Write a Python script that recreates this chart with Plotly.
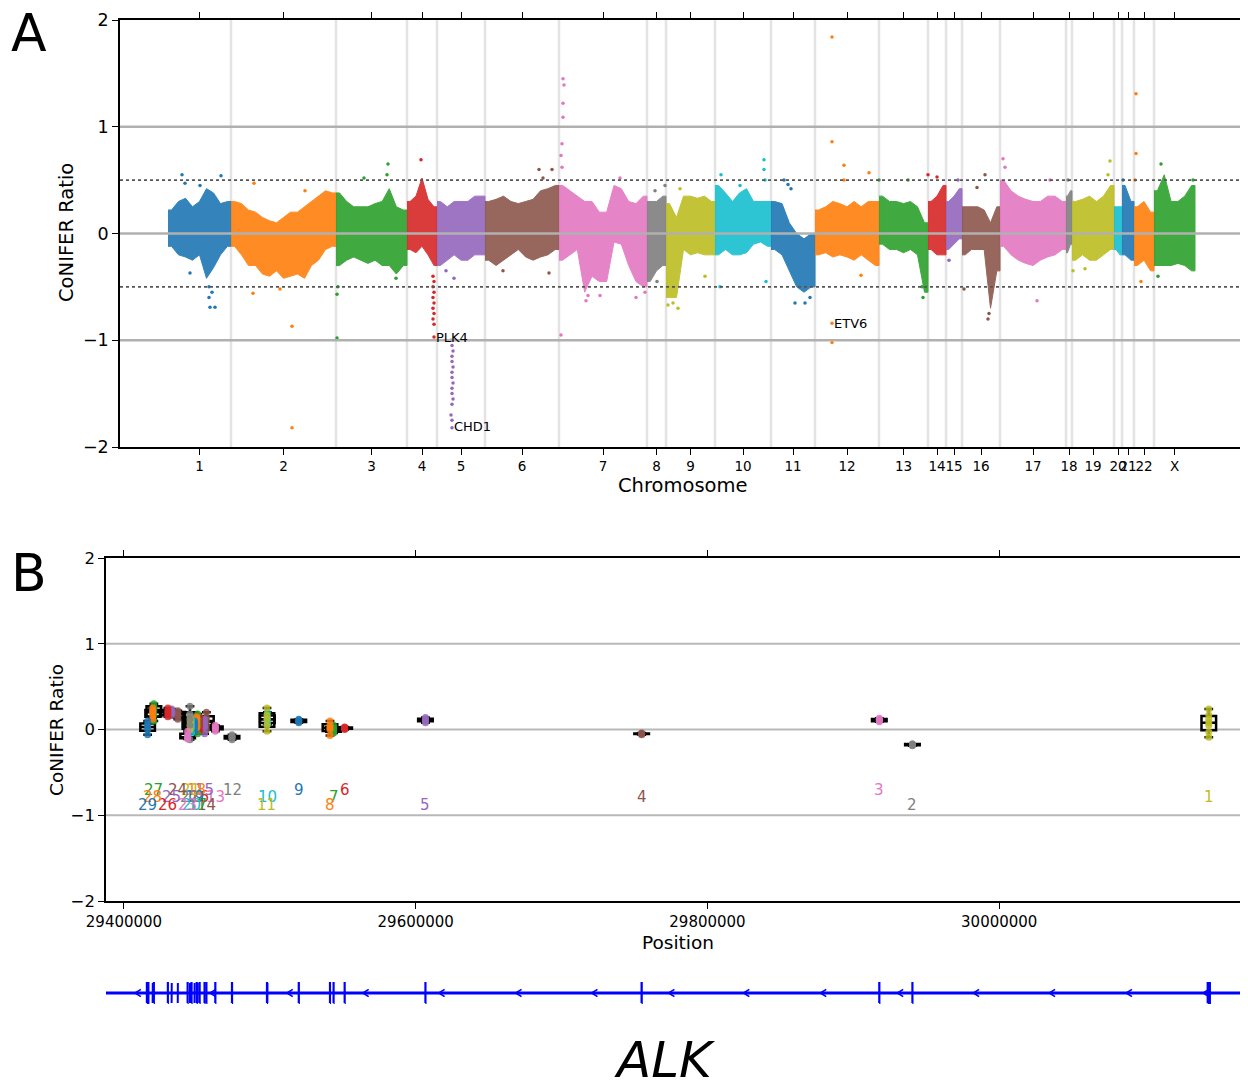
import plotly.graph_objects as go

REF_W, REF_H = 1248, 1087
OFF = 8                      # page body margin of the html page
W, H = REF_W - OFF, REF_H - OFF
TAB10 = ['#1f77b4', '#ff7f0e', '#2ca02c', '#d62728', '#9467bd',
         '#8c564b', '#e377c2', '#7f7f7f', '#bcbd22', '#17becf']
FONT = "DejaVu Sans"


def fx(px):
    return (px - OFF) / W


def fy(py):
    return 1 - (py - OFF) / H


# ---------------- Panel A data ----------------
chrom_names = ['1', '2', '3', '4', '5', '6', '7', '8', '9', '10', '11', '12',
               '13', '14', '15', '16', '17', '18', '19', '20', '21', '22', 'X']
# probes per chromosome (x100)
chrom_span = [63, 105, 71, 30, 48, 74, 88, 19, 49, 56, 44, 64,
              49, 18, 16, 38, 66, 6, 42, 8, 12, 20, 41]

# upper / lower envelope of the ratio cloud, in consecutive bins along each chromosome
band_hi = [
    [0.22, 0.30, 0.33, 0.25, 0.30, 0.42, 0.38, 0.28, 0.30],
    [0.30, 0.28, 0.22, 0.20, 0.15, 0.12, 0.10, 0.15, 0.20, 0.20, 0.25, 0.30, 0.35, 0.40, 0.38],
    [0.38, 0.30, 0.25, 0.25, 0.25, 0.28, 0.30, 0.42, 0.25, 0.22],
    [0.30, 0.35, 0.52, 0.32, 0.25],
    [0.30, 0.25, 0.30, 0.30, 0.30, 0.35, 0.35],
    [0.30, 0.32, 0.35, 0.30, 0.28, 0.30, 0.32, 0.40, 0.42, 0.45],
    [0.45, 0.40, 0.35, 0.30, 0.30, 0.20, 0.20, 0.45, 0.42, 0.30, 0.28, 0.35],
    [0.30, 0.30, 0.35],
    [0.28, 0.15, 0.35, 0.35, 0.33, 0.35, 0.30],
    [0.45, 0.38, 0.30, 0.38, 0.42, 0.30, 0.30, 0.30],
    [0.30, 0.28, 0.10, 0.00, -0.05, 0.00],
    [0.22, 0.25, 0.30, 0.28, 0.25, 0.30, 0.25, 0.30, 0.30],
    [0.35, 0.30, 0.30, 0.28, 0.30, 0.25, 0.10],
    [0.30, 0.35, 0.45],
    [0.30, 0.35, 0.42],
    [0.25, 0.25, 0.25, 0.22, 0.10, 0.25],
    [0.50, 0.40, 0.35, 0.32, 0.30, 0.30, 0.35, 0.35, 0.30],
    [0.35, 0.40],
    [0.30, 0.32, 0.35, 0.30, 0.35, 0.45],
    [0.25, 0.25],
    [0.45, 0.30],
    [0.25, 0.30, 0.20],
    [0.40, 0.55, 0.30, 0.30, 0.35, 0.45],
]
band_lo = [
    [-0.12, -0.20, -0.22, -0.25, -0.20, -0.42, -0.32, -0.20, -0.12],
    [-0.12, -0.20, -0.30, -0.30, -0.38, -0.40, -0.35, -0.42, -0.40, -0.38, -0.42, -0.30, -0.25, -0.15, -0.12],
    [-0.30, -0.25, -0.22, -0.25, -0.28, -0.25, -0.30, -0.30, -0.38, -0.30],
    [-0.15, -0.18, -0.12, -0.20, -0.30],
    [-0.30, -0.25, -0.20, -0.25, -0.25, -0.20, -0.20],
    [-0.25, -0.30, -0.25, -0.20, -0.15, -0.22, -0.25, -0.22, -0.20, -0.15],
    [-0.25, -0.20, -0.15, -0.55, -0.40, -0.45, -0.45, -0.08, -0.10, -0.30, -0.45, -0.50],
    [-0.45, -0.35, -0.30],
    [-0.60, -0.60, -0.15, -0.20, -0.18, -0.20, -0.20],
    [-0.20, -0.15, -0.20, -0.20, -0.18, -0.10, -0.08, -0.12],
    [-0.15, -0.20, -0.35, -0.50, -0.55, -0.50],
    [-0.20, -0.18, -0.22, -0.20, -0.22, -0.25, -0.20, -0.25, -0.30],
    [-0.10, -0.15, -0.15, -0.18, -0.15, -0.20, -0.55],
    [-0.15, -0.20, -0.20],
    [-0.15, -0.10, -0.05],
    [-0.20, -0.15, -0.15, -0.15, -0.70, -0.35],
    [-0.12, -0.20, -0.25, -0.28, -0.30, -0.25, -0.22, -0.20, -0.15],
    [-0.18, -0.10],
    [-0.25, -0.20, -0.25, -0.25, -0.20, -0.15],
    [-0.15, -0.20],
    [-0.20, -0.25],
    [-0.30, -0.25, -0.35],
    [-0.30, -0.30, -0.30, -0.28, -0.30, -0.35],
]

# individual probes outside the main cloud
outlier_chrom = (['1'] * 10 + ['2'] * 6 + ['3'] * 7 + ['4'] * 12 + ['5'] * 18 + ['6'] * 5 +
                 ['7'] * 14 + ['8'] * 3 + ['9'] * 5 + ['10'] * 7 + ['11'] * 6 + ['12'] * 8 +
                 ['13'] * 4 + ['14'] * 2 + ['15'] * 2 + ['16'] * 5 + ['17'] * 4 + ['18'] * 1 +
                 ['19'] * 4 + ['21'] * 1 + ['22'] * 4 + ['X'] * 3)
outlier_pos = [14, 17, 22, 41, 41, 42, 47, 44, 53, 32,
               86, 85, 124, 124, 112, 137,
               169, 169, 170, 220, 219, 196, 228,
               265, 266, 265, 266, 265, 266, 265, 266, 265, 266, 253, 266,
               283, 284, 285, 284, 284, 285, 284, 284, 285, 284, 284, 285, 284, 283, 284, 284, 278, 286,
               371, 384, 375, 335, 381,
               395, 396, 395, 395, 394, 393, 394, 393, 418, 420, 432, 468, 477, 452,
               497, 489, 487,
               500, 510, 505, 512, 537,
               553, 596, 596, 597, 598, 552, 572,
               616, 620, 627, 637, 642, 623,
               664, 664, 664, 664, 676, 676, 701, 693,
               711, 740, 755, 754,
               760, 769,
               781, 790,
               820, 821, 817, 796, 809,
               835, 837, 869, 882,
               900,
               942, 905, 917, 940,
               955,
               968, 968, 967, 973,
               993, 990, 1025]
outlier_ratio = [0.55, 0.47, -0.37, -0.50, -0.60, -0.69, -0.69, -0.55, 0.54, 0.45,
                 0.47, -0.56, -0.87, -1.82, -0.52, 0.40,
                 -0.98, -0.57, -0.50, 0.65, 0.55, 0.52, -0.42,
                 -0.40, -0.45, -0.50, -0.55, -0.60, -0.65, -0.70, -0.75, -0.80, -0.85, 0.69, -0.97,
                 -1.00, -1.05, -1.10, -1.15, -1.20, -1.25, -1.30, -1.35, -1.40, -1.45, -1.50, -1.55,
                 -1.60, -1.70, -1.75, -1.82, -0.35, -0.42,
                 0.60, 0.60, 0.52, -0.35, -0.37,
                 1.45, 1.39, 1.22, 1.09, 0.84, 0.73, 0.62, -0.95, -0.63, -0.58, -0.58, -0.60, -0.55, 0.52,
                 0.45, -0.45, 0.40,
                 -0.67, -0.70, -0.65, 0.42, -0.40,
                 0.55, 0.69, 0.60, 0.50, -0.45, -0.50, 0.45,
                 0.50, 0.46, -0.65, -0.65, -0.60, 0.42,
                 1.84, 0.86, -0.84, -1.02, 0.64, 0.50, 0.57, -0.39,
                 0.50, 0.50, -0.60, -0.50,
                 0.55, 0.53,
                 -0.25, 0.50,
                 -0.80, -0.75, 0.55, -0.52, 0.43,
                 0.70, 0.62, -0.63, 0.50,
                 0.50,
                 0.68, -0.35, -0.33, 0.55,
                 0.50,
                 1.31, 0.75, 0.50, -0.45,
                 0.65, -0.40, 0.50]

gene_labels = ['PLK4', 'CHD1', 'ETV6']
gene_label_pos = [266, 284, 664]
gene_label_ratio = [-0.97, -1.81, -0.84]

# ---------------- Panel B data (ALK exons) ----------------
exon_number = list(range(1, 30))
exon_start = [30142859, 29940444, 29917716, 29754782, 29606598, 29551216, 29543617, 29541170,
              29519754, 29498268, 29497965, 29473971, 29462546, 29456431, 29455170, 29451750,
              29450440, 29449788, 29448327, 29446208, 29445383, 29445210, 29443572, 29436850,
              29432652, 29430038, 29420408, 29419636, 29415640]
exon_end = [30144477, 29940563, 29917880, 29754982, 29606725, 29551347, 29543748, 29541270,
            29519923, 29498362, 29498093, 29474133, 29462696, 29456562, 29455314, 29451932,
            29450538, 29449940, 29448431, 29446394, 29445473, 29445274, 29443701, 29436947,
            29432744, 29430138, 29420542, 29419726, 29416788]
exon_ratios = [
    [0.24, 0.17, 0.12, 0.08, 0.05, -0.03, -0.09],
    [-0.17, -0.18, -0.19, -0.18, -0.17],
    [0.13, 0.12, 0.11, 0.10, 0.09],
    [-0.04, -0.05, -0.05, -0.06, -0.05],
    [0.14, 0.12, 0.11, 0.10, 0.08],
    [0.03, 0.02, 0.01, 0.02, 0.00],
    [0.05, 0.02, 0.00, -0.02, -0.04],
    [0.10, 0.05, 0.02, 0.00, -0.07],
    [0.12, 0.11, 0.10, 0.09, 0.08],
    [0.20, 0.15, 0.12, 0.08, 0.06],
    [0.25, 0.17, 0.12, 0.05, -0.02],
    [-0.06, -0.08, -0.09, -0.10, -0.12],
    [0.05, 0.03, 0.02, 0.01, -0.02],
    [0.20, 0.14, 0.10, 0.05, 0.00],
    [0.12, 0.08, 0.05, 0.02, -0.05],
    [0.15, 0.10, 0.06, 0.03, -0.02],
    [0.18, 0.12, 0.08, 0.04, -0.05],
    [0.15, 0.12, 0.10, 0.06, 0.02],
    [0.10, 0.07, 0.05, 0.02, -0.02],
    [0.12, 0.08, 0.05, 0.02, -0.04],
    [0.14, 0.10, 0.08, 0.04, 0.00],
    [0.27, 0.18, 0.12, 0.05, -0.12],
    [-0.02, -0.06, -0.09, -0.10, -0.11],
    [0.22, 0.20, 0.18, 0.15, 0.12],
    [0.24, 0.22, 0.20, 0.19, 0.17],
    [0.25, 0.22, 0.20, 0.17, 0.15],
    [0.30, 0.26, 0.22, 0.17, 0.10],
    [0.25, 0.22, 0.20, 0.16, 0.12],
    [0.10, 0.06, 0.03, 0.00, -0.06],
]
label_levels = [-0.70, -0.79, -0.88]   # exon number % 3 == 0, 1, 2
strand_arrow_pos = [29409590, 29460960, 29513690, 29565750, 29617800, 29670530, 29722590,
                    29775330, 29826690, 29879430, 29932170, 29984220, 30036270, 30089010,
                    30141740]
gene_name = 'ALK'

# ---------------- figure ----------------
fig = go.Figure()

chrom_start = []
acc = 0
for s in chrom_span:
    chrom_start.append(acc)
    acc += s
chrom_center = [st + s / 2 for st, s in zip(chrom_start, chrom_span)]

for i, name in enumerate(chrom_names):
    col = TAB10[i % 10]
    st, w = chrom_start[i], chrom_span[i]
    hi, lo = band_hi[i], band_lo[i]
    n = len(hi)
    xs = [st + (k + 0.5) * w / n for k in range(n)]
    px = [st] + xs + [st + w] + [st + w] + xs[::-1] + [st]
    py = [hi[0]] + hi + [hi[-1]] + [lo[-1]] + lo[::-1] + [lo[0]]
    fig.add_trace(go.Scatter(x=px, y=py, mode='lines', fill='toself', fillcolor=col,
                             line=dict(color=col, width=1), opacity=0.9,
                             hoverinfo='skip', showlegend=False, xaxis='x', yaxis='y'))

for i, name in enumerate(chrom_names):
    ox = [p for c, p in zip(outlier_chrom, outlier_pos) if c == name]
    oy = [r for c, r in zip(outlier_chrom, outlier_ratio) if c == name]
    if ox:
        fig.add_trace(go.Scatter(x=ox, y=oy, mode='markers',
                                 marker=dict(color=TAB10[i % 10], size=3.5),
                                 showlegend=False, xaxis='x', yaxis='y'))

shapes = []
for st in chrom_start[1:]:
    shapes.append(dict(type='line', xref='x', yref='y domain', x0=st, x1=st, y0=0, y1=1,
                       line=dict(color='#e3e3e3', width=2.5), layer='below'))
for yv in [-1, 0, 1]:
    shapes.append(dict(type='line', xref='x domain', yref='y', x0=0, x1=1, y0=yv, y1=yv,
                       line=dict(color='#b0b0b0', width=2.5), layer='above'))
for yv in [-0.5, 0.5]:
    shapes.append(dict(type='line', xref='x domain', yref='y', x0=0, x1=1, y0=yv, y1=yv,
                       line=dict(color='#555555', width=1.8, dash='dot'), layer='above'))
for yv in [-1, 0, 1]:
    shapes.append(dict(type='line', xref='x2 domain', yref='y2', x0=0, x1=1, y0=yv, y1=yv,
                       line=dict(color='#b8b8b8', width=2.2), layer='below'))

annotations = []
for g, gx, gy in zip(gene_labels, gene_label_pos, gene_label_ratio):
    annotations.append(dict(x=gx, y=gy, xref='x', yref='y', text=g, showarrow=False,
                            xanchor='left', yanchor='middle',
                            font=dict(family=FONT, size=13, color='black')))

# ---------------- Panel B ----------------
exon_mid = [(a + b) / 2 for a, b in zip(exon_start, exon_end)]
for k, xm, vals in zip(exon_number, exon_mid, exon_ratios):
    col = TAB10[(9 - k) % 10]
    fig.add_trace(go.Scatter(x=[xm] * len(vals), y=vals, mode='markers',
                             marker=dict(color=col, size=7, opacity=0.85),
                             showlegend=False, xaxis='x2', yaxis='y2'))
for k, xm, vals in zip(exon_number, exon_mid, exon_ratios):
    fig.add_trace(go.Box(x=[xm] * len(vals), y=vals, width=10000, boxpoints=False,
                         line=dict(color='black', width=2.5), fillcolor='rgba(0,0,0,0)',
                         whiskerwidth=0.6, showlegend=False, xaxis='x2', yaxis='y2',
                         hoverinfo='skip'))
for k, xm in zip(exon_number, exon_mid):
    col = TAB10[(9 - k) % 10]
    annotations.append(dict(x=xm, y=label_levels[k % 3], xref='x2', yref='y2', text=str(k),
                            showarrow=False, xanchor='center', yanchor='middle',
                            font=dict(family=FONT, size=15, color=col)))

# ---------------- Gene track ----------------
XB = [29387671, 30169178]
fig.add_trace(go.Scatter(x=XB, y=[0, 0], mode='lines', line=dict(color='#0000ff', width=3),
                         showlegend=False, xaxis='x3', yaxis='y3', hoverinfo='skip'))
ex_x, ex_y = [], []
for a, b in zip(exon_start, exon_end):
    ex_x += [a, b, b, a, a, None]
    ex_y += [-0.43, -0.43, 0.43, 0.43, -0.43, None]
fig.add_trace(go.Scatter(x=ex_x, y=ex_y, mode='lines', fill='toself', fillcolor='#0000ff',
                         line=dict(color='#0000ff', width=2), showlegend=False,
                         xaxis='x3', yaxis='y3', hoverinfo='skip'))
ch_x, ch_y = [], []
for p in strand_arrow_pos:
    ch_x += [p + 2000, p - 2000, p + 2000, None]
    ch_y += [0.16, 0, -0.16, None]
fig.add_trace(go.Scatter(x=ch_x, y=ch_y, mode='lines', line=dict(color='#0000ff', width=1.6),
                         showlegend=False, xaxis='x3', yaxis='y3', hoverinfo='skip'))


def ann(text, x, y, size, angle=0, xanchor='center'):
    annotations.append(dict(x=fx(x), y=fy(y), xref='paper', yref='paper', text=text,
                            showarrow=False, xanchor=xanchor, yanchor='middle',
                            textangle=angle, font=dict(family=FONT, size=size, color='black')))


ann('Chromosome', 683, 486, 19.5)
ann('CoNIFER Ratio', 66, 233, 19.5, -90)
ann('CoNIFER Ratio', 56, 730, 18.5, -90)
ann('Position', 678, 942, 18.5)
ann('A', 9, 33, 52, xanchor='left')
ann('B', 9, 573, 52, xanchor='left')
ann('<i>%s</i>' % gene_name, 665, 1060, 50)

ytick_vals = [-2, -1, 0, 1, 2]
ytick_text = ['\u22122', '\u22121', '0', '1', '2']
axis_common = dict(showgrid=False, zeroline=False, linecolor='black', linewidth=1.5,
                   ticks='outside', ticklen=6, tickwidth=1.3, tickcolor='black',
                   automargin=False)

fig.update_layout(
    width=W, height=H, margin=dict(l=0, r=0, t=0, b=0, autoexpand=False),
    paper_bgcolor='white', plot_bgcolor='white', showlegend=False,
    font=dict(family=FONT, color='black'),
    shapes=shapes, annotations=annotations,
    xaxis=dict(domain=[fx(120), fx(1246)], range=[-48, 1078], anchor='y',
               tickvals=chrom_center, ticktext=chrom_names, mirror='ticks', tickangle=0,
               tickfont=dict(size=13.5), **axis_common),
    yaxis=dict(domain=[fy(447), fy(20)], range=[-2, 2], anchor='x',
               tickvals=ytick_vals, ticktext=ytick_text, mirror=True,
               tickfont=dict(size=17.5), **axis_common),
    xaxis2=dict(domain=[fx(106), fx(1246)], range=XB, anchor='y2', tickangle=0,
                tickvals=[29400000, 29600000, 29800000, 30000000],
                ticktext=['29400000', '29600000', '29800000', '30000000'], mirror='ticks',
                tickfont=dict(size=15), **axis_common),
    yaxis2=dict(domain=[fy(901), fy(558)], range=[-2, 2], anchor='x2',
                tickvals=ytick_vals, ticktext=ytick_text, mirror=True,
                tickfont=dict(size=16.5), **axis_common),
    xaxis3=dict(domain=[fx(106), fx(1246)], range=XB, anchor='y3', visible=False,
                matches='x2'),
    yaxis3=dict(domain=[fy(1016), fy(970)], range=[-1, 1], anchor='x3', visible=False),
)

fig.write_html("out.html")
